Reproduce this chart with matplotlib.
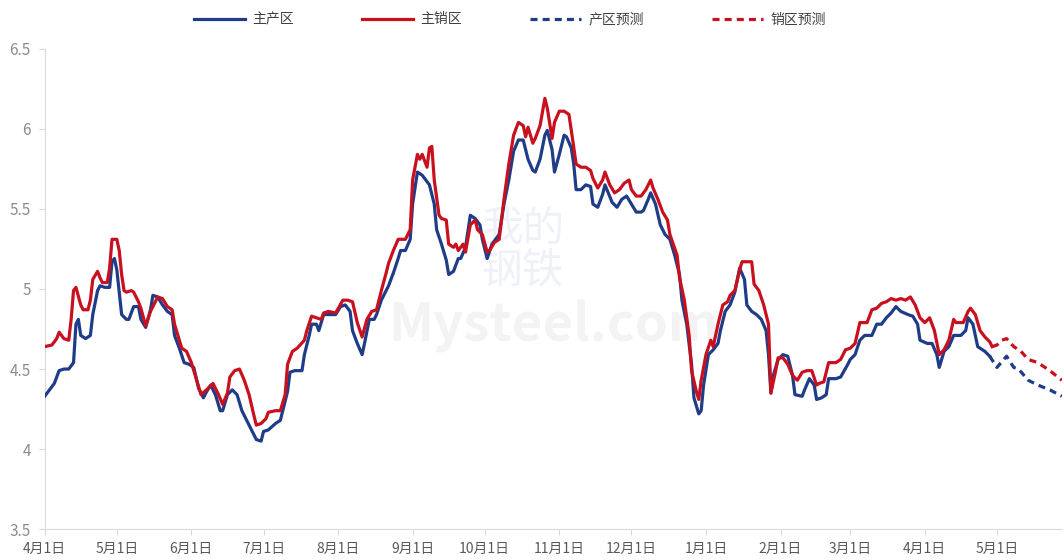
import numpy as np
import pandas as pd
import matplotlib
matplotlib.use("Agg")
import matplotlib.pyplot as plt

plt.rcParams['font.family'] = ['Noto Sans CJK SC', 'DejaVu Sans']

start = pd.Timestamp("2023-04-01")

# 主产区 (days since 4月1日, value)
prod_days = [0, 2, 4, 6, 8, 10, 12, 13, 14, 15, 17, 19, 20, 22, 23, 25, 27, 28, 29, 30,
             32, 34, 35, 37, 39, 40, 42, 44, 45, 47, 49, 51, 53, 54, 56, 58, 60, 62, 64, 66,
             67, 69, 71, 73, 74, 76, 78, 80, 82, 84, 86, 88, 90, 91, 93, 96, 98, 99, 101, 102,
             104, 107, 108, 110, 111, 113, 114, 116, 118, 121, 123, 125, 127, 128, 130, 132, 133, 135, 137, 138,
             140, 142, 143, 145, 147, 148, 150, 152, 153, 155, 157, 158, 160, 162, 163, 165, 167, 168, 170, 172,
             173, 175, 177, 179, 181, 182, 184, 186, 188, 189, 191, 193, 195, 197, 199, 201, 203, 204, 206, 208,
             209, 211, 212, 214, 216, 217, 219, 220, 221, 223, 225, 227, 228, 230, 232, 233, 236, 238, 240, 242,
             244, 246, 248, 249, 251, 252, 254, 256, 258, 260, 262, 264, 265, 267, 269, 270, 272, 273, 274, 276,
             278, 280, 281, 283, 285, 287, 289, 291, 292, 294, 296, 298, 300, 301, 302, 303, 305, 307, 309, 311,
             312, 315, 316, 318, 320, 321, 323, 325, 326, 329, 331, 334, 335, 337, 339, 341, 344, 346, 348, 350,
             352, 354, 356, 359, 361, 363, 364, 367, 369, 371, 372, 374, 376, 378, 381, 383, 384, 386, 388, 391,
             393]
prod_vals = [4.33, 4.37, 4.41, 4.49, 4.50, 4.50, 4.54, 4.78, 4.81, 4.71, 4.69, 4.71, 4.84, 4.99, 5.02, 5.01, 5.01, 5.17, 5.19, 5.12,
             4.84, 4.81, 4.81, 4.89, 4.89, 4.81, 4.76, 4.87, 4.96, 4.95, 4.90, 4.86, 4.84, 4.71, 4.63, 4.54, 4.53, 4.51, 4.38, 4.32,
             4.35, 4.40, 4.34, 4.24, 4.24, 4.34, 4.37, 4.34, 4.24, 4.18, 4.12, 4.06, 4.05, 4.11, 4.12, 4.16, 4.18, 4.24, 4.36, 4.48,
             4.49, 4.49, 4.59, 4.71, 4.78, 4.78, 4.74, 4.84, 4.84, 4.84, 4.89, 4.90, 4.86, 4.74, 4.66, 4.59, 4.66, 4.81, 4.81, 4.84,
             4.93, 4.99, 5.02, 5.10, 5.19, 5.24, 5.24, 5.31, 5.53, 5.73, 5.71, 5.69, 5.65, 5.53, 5.37, 5.28, 5.18, 5.09, 5.11, 5.19,
             5.19, 5.26, 5.46, 5.44, 5.40, 5.31, 5.19, 5.28, 5.32, 5.34, 5.53, 5.68, 5.86, 5.93, 5.93, 5.81, 5.74, 5.73, 5.81, 5.96,
             5.99, 5.87, 5.73, 5.84, 5.96, 5.95, 5.88, 5.78, 5.62, 5.62, 5.65, 5.64, 5.53, 5.51, 5.59, 5.65, 5.54, 5.51, 5.56, 5.58,
             5.53, 5.48, 5.48, 5.49, 5.56, 5.60, 5.53, 5.40, 5.34, 5.31, 5.21, 5.09, 4.93, 4.78, 4.53, 4.32, 4.22, 4.24, 4.40, 4.59,
             4.62, 4.66, 4.74, 4.86, 4.90, 4.98, 5.13, 5.06, 4.90, 4.86, 4.84, 4.81, 4.74, 4.59, 4.35, 4.46, 4.56, 4.59, 4.58, 4.46,
             4.34, 4.33, 4.37, 4.44, 4.40, 4.31, 4.32, 4.34, 4.44, 4.44, 4.45, 4.53, 4.56, 4.59, 4.68, 4.71, 4.71, 4.78, 4.78, 4.82,
             4.85, 4.89, 4.86, 4.84, 4.83, 4.78, 4.68, 4.66, 4.66, 4.59, 4.51, 4.61, 4.64, 4.71, 4.71, 4.74, 4.82, 4.78, 4.64, 4.61,
             4.58]

# 主销区
sale_days = [0, 3, 5, 6, 8, 10, 11, 12, 13, 15, 16, 18, 19, 20, 22, 23, 24, 26, 27, 28,
             30, 31, 32, 33, 34, 36, 37, 39, 40, 42, 44, 47, 49, 51, 53, 54, 57, 59, 61, 63,
             65, 68, 70, 72, 74, 76, 77, 79, 81, 83, 85, 87, 88, 90, 92, 93, 96, 98, 100, 101,
             103, 105, 108, 109, 111, 113, 115, 116, 118, 121, 124, 126, 128, 130, 132, 134, 136, 138, 140, 142,
             143, 145, 147, 150, 152, 153, 155, 156, 157, 159, 160, 161, 162, 164, 165, 167, 168, 170, 171, 172,
             174, 175, 177, 179, 180, 182, 184, 185, 187, 189, 191, 193, 195, 197, 199, 200, 201, 203, 204, 206,
             208, 209, 211, 212, 214, 216, 218, 219, 221, 223, 225, 227, 228, 230, 232, 233, 235, 237, 239, 241,
             243, 244, 246, 248, 250, 252, 253, 255, 257, 259, 260, 263, 264, 266, 268, 269, 271, 272, 273, 275,
             277, 278, 280, 282, 284, 285, 287, 289, 290, 292, 294, 295, 297, 299, 301, 302, 304, 305, 307, 309,
             311, 313, 315, 317, 319, 321, 322, 324, 326, 329, 331, 333, 335, 337, 339, 342, 344, 346, 348, 350,
             352, 354, 356, 358, 360, 362, 364, 366, 368, 370, 372, 374, 376, 378, 379, 382, 384, 385, 387, 389,
             391, 393, 394]
sale_vals = [4.64, 4.65, 4.69, 4.73, 4.69, 4.68, 4.81, 4.99, 5.01, 4.90, 4.87, 4.87, 4.93, 5.06, 5.11, 5.07, 5.04, 5.04, 5.13, 5.31,
             5.31, 5.24, 5.09, 4.99, 4.98, 4.99, 4.98, 4.92, 4.88, 4.77, 4.86, 4.95, 4.94, 4.89, 4.87, 4.78, 4.63, 4.61, 4.54, 4.44,
             4.34, 4.38, 4.41, 4.35, 4.28, 4.35, 4.45, 4.49, 4.50, 4.43, 4.34, 4.21, 4.15, 4.16, 4.19, 4.23, 4.24, 4.24, 4.34, 4.53,
             4.61, 4.63, 4.68, 4.74, 4.83, 4.82, 4.81, 4.85, 4.86, 4.85, 4.93, 4.93, 4.92, 4.79, 4.70, 4.81, 4.86, 4.87, 4.99, 5.10,
             5.16, 5.24, 5.31, 5.31, 5.37, 5.68, 5.84, 5.81, 5.84, 5.76, 5.88, 5.89, 5.68, 5.46, 5.44, 5.43, 5.28, 5.26, 5.28, 5.24,
             5.28, 5.23, 5.40, 5.43, 5.37, 5.34, 5.23, 5.24, 5.29, 5.31, 5.56, 5.78, 5.96, 6.04, 6.02, 5.95, 6.01, 5.91, 5.94, 6.02,
             6.19, 6.13, 5.94, 6.04, 6.11, 6.11, 6.09, 5.99, 5.78, 5.76, 5.76, 5.74, 5.69, 5.63, 5.68, 5.73, 5.65, 5.60, 5.62, 5.66,
             5.68, 5.62, 5.58, 5.58, 5.62, 5.68, 5.63, 5.56, 5.48, 5.43, 5.34, 5.21, 5.07, 4.93, 4.71, 4.49, 4.36, 4.31, 4.43, 4.59,
             4.68, 4.64, 4.78, 4.90, 4.92, 4.96, 4.99, 5.12, 5.17, 5.17, 5.17, 5.03, 4.99, 4.90, 4.78, 4.35, 4.49, 4.57, 4.57, 4.53,
             4.46, 4.43, 4.48, 4.49, 4.49, 4.40, 4.41, 4.42, 4.54, 4.54, 4.56, 4.62, 4.63, 4.66, 4.79, 4.79, 4.87, 4.88, 4.91, 4.92,
             4.94, 4.93, 4.94, 4.93, 4.95, 4.90, 4.82, 4.79, 4.82, 4.74, 4.59, 4.62, 4.68, 4.81, 4.79, 4.79, 4.86, 4.88, 4.84, 4.74,
             4.70, 4.67, 4.64]

# 预测
prod_fc_days = [393, 396, 400, 403, 405, 409, 413, 418, 423]
prod_fc_vals = [4.58, 4.51, 4.58, 4.51, 4.50, 4.43, 4.40, 4.37, 4.33]
sale_fc_days = [394, 396, 398, 400, 403, 406, 409, 413, 418, 423]
sale_fc_vals = [4.64, 4.65, 4.68, 4.69, 4.64, 4.61, 4.56, 4.54, 4.49, 4.43]

month_ticks = pd.date_range("2023-04-01", "2024-05-01", freq="MS")
y_ticks = [3.5, 4, 4.5, 5, 5.5, 6, 6.5]

BLUE = "#1F3C88"
RED = "#C8101E"


def to_dates(days):
    return start + pd.to_timedelta(days, unit="D")


def main():
    fig = plt.figure(figsize=(10.64, 5.6), dpi=100)
    ax = fig.add_axes([0.042, 0.055, 0.956, 0.858])

    # 水印
    ax.text(0.50, 0.425, "Mysteel.com", transform=ax.transAxes, ha="center", va="center",
            fontsize=38, fontweight="bold", color="#d9d9d9", alpha=0.3, zorder=0)
    ax.text(0.47, 0.58, "我的\n钢铁", transform=ax.transAxes, ha="center", va="center",
            fontsize=30, color="#c9d3e6", alpha=0.3, linespacing=1.0, zorder=0)

    ax.plot(to_dates(prod_days), prod_vals, color=BLUE, lw=2.3, label="主产区", zorder=3)
    ax.plot(to_dates(sale_days), sale_vals, color=RED, lw=2.3, label="主销区", zorder=3)
    ax.plot(to_dates(prod_fc_days), prod_fc_vals, color=BLUE, lw=2.3, ls=(0, (2.2, 1.6)),
            label="产区预测", zorder=3)
    ax.plot(to_dates(sale_fc_days), sale_fc_vals, color=RED, lw=2.3, ls=(0, (2.2, 1.6)),
            label="销区预测", zorder=3)

    ax.set_xlim(start, start + pd.Timedelta(days=423))
    ax.set_ylim(3.5, 6.5)

    ax.set_yticks(y_ticks)
    ax.set_yticklabels([f"{v:g}" for v in y_ticks], color="#8c8c8c", fontsize=11)
    ax.set_xticks(month_ticks)
    ax.set_xticklabels([f"{d.month}月1日" for d in month_ticks], color="#595959", fontsize=10)

    for side in ["top", "right"]:
        ax.spines[side].set_visible(False)
    ax.spines["left"].set_color("#d9d9d9")
    ax.spines["bottom"].set_color("#d9d9d9")
    ax.tick_params(axis="y", length=4, color="#d9d9d9", pad=6)
    ax.tick_params(axis="x", length=4, color="#d9d9d9", pad=5)

    fig.legend(loc="upper center", bbox_to_anchor=(0.479, 1.0), ncol=4, frameon=False,
               fontsize=10, handlelength=3.7, columnspacing=4.9, handletextpad=0.5,
               labelcolor="#404040")

    fig.savefig("out.png", dpi=100)


if __name__ == "__main__":
    main()
